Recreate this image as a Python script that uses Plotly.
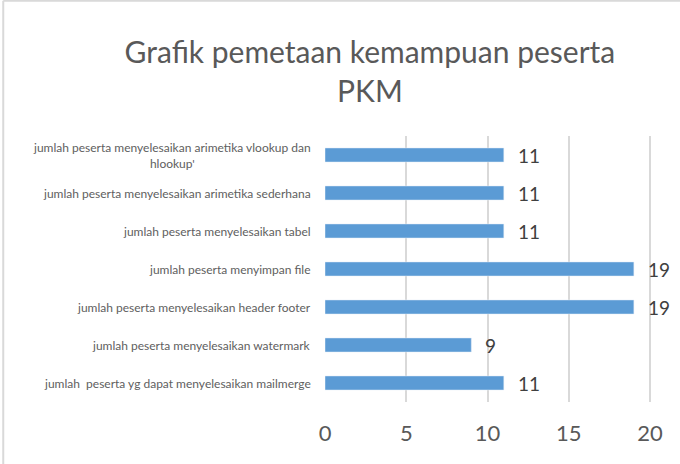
import plotly.graph_objects as go

categories = [
    "jumlah peserta menyelesaikan arimetika vlookup dan<br>hlookup'",
    "jumlah peserta menyelesaikan arimetika sederhana",
    "jumlah peserta menyelesaikan tabel",
    "jumlah peserta menyimpan file",
    "jumlah peserta menyelesaikan header footer",
    "jumlah peserta menyelesaikan watermark",
    "jumlah  peserta yg dapat menyelesaikan mailmerge",
]
values = [11, 11, 11, 19, 19, 9, 11]
x_ticks = [0, 5, 10, 15, 20]
title_text = "Grafik pemetaan kemampuan peserta<br>PKM"

FONT = "Lato"
GRAY = "#595959"

fig = go.Figure()
fig.add_trace(go.Bar(
    x=values, y=categories, orientation="h",
    marker=dict(color="#5b9bd5"),
    width=0.37,
    hoverinfo="x+y",
))

# data labels
for c, v in zip(categories, values):
    fig.add_annotation(x=v, y=c, xref="x", yref="y", text=str(v),
                       showarrow=False, xanchor="left", xshift=12,
                       font=dict(family=FONT, size=19, color="#404040"))

# category labels (centered multi-line like the original)
for c in categories:
    fig.add_annotation(x=-0.037, y=c, xref="paper", yref="y", text=c,
                       showarrow=False, xanchor="right", align="center",
                       font=dict(family=FONT, size=12, color="#606060"))

# chart border (left and top edges visible)
fig.add_shape(type="line", xref="paper", yref="paper",
              x0=-0.975, x1=-0.975, y0=-0.3, y1=1.508,
              line=dict(color="#d9d9d9", width=2))
fig.add_shape(type="line", xref="paper", yref="paper",
              x0=-0.975, x1=1.2, y0=1.508, y1=1.508,
              line=dict(color="#d9d9d9", width=2))

fig.update_layout(
    width=680, height=464,
    margin=dict(l=325, r=25, t=136, b=62),
    paper_bgcolor="white", plot_bgcolor="white",
    showlegend=False,
    bargap=0.63,
    title=dict(text=title_text, x=0.544, xanchor="center", y=0.865, yanchor="top",
               font=dict(family=FONT, size=30, color=GRAY)),
    xaxis=dict(range=[0, 20.3], tickvals=x_ticks, showgrid=True,
               gridcolor="#d9d9d9", gridwidth=1.8, zeroline=False,
               showline=False, ticks="", ticklabelstandoff=16,
               tickfont=dict(family=FONT, size=22, color=GRAY)),
    yaxis=dict(autorange="reversed", showticklabels=False, ticks="",
               showgrid=False, zeroline=False, showline=False),
)

fig.write_html("out.html", config={"displayModeBar": False},
               post_script="document.body.style.margin='0';document.body.style.overflow='hidden';")
